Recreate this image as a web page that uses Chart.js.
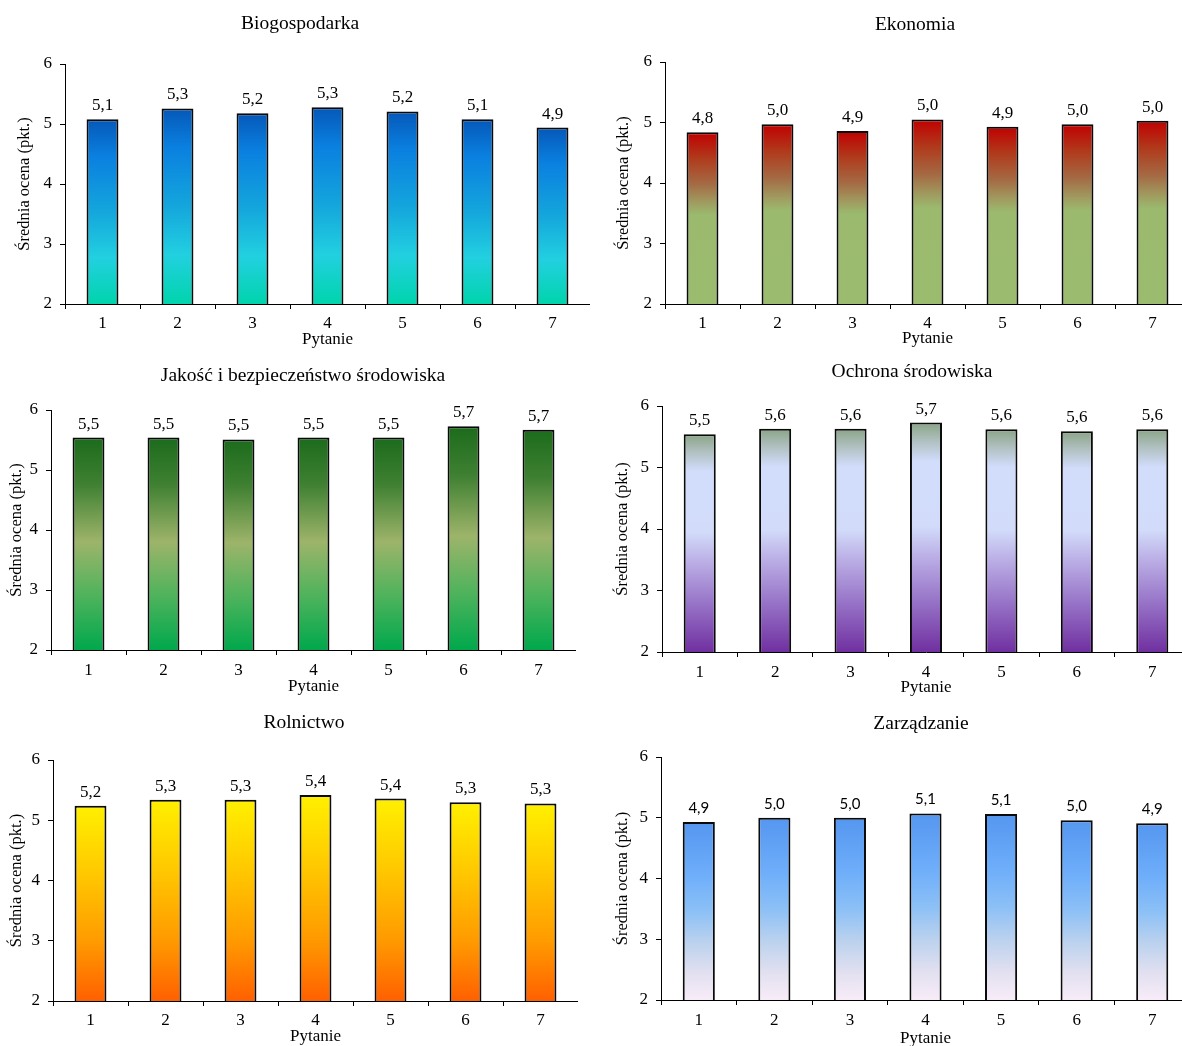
<!DOCTYPE html>
<html><head><meta charset="utf-8">
<script src="https://cdn.jsdelivr.net/npm/chart.js@4.4.1/dist/chart.umd.min.js"></script>
<style>
html,body{margin:0;padding:0;background:#fff;overflow:hidden;width:1182px;height:1046px;position:relative;}
canvas{position:absolute;}
</style></head><body>
<canvas id="c0"></canvas><canvas id="c1"></canvas><canvas id="c2"></canvas>
<canvas id="c3"></canvas><canvas id="c4"></canvas><canvas id="c5"></canvas>
<script>
// ---- data ----
const categories = ['1', '2', '3', '4', '5', '6', '7'];
const titles = ['Biogospodarka', 'Ekonomia', 'Jakość i bezpieczeństwo środowiska', 'Ochrona środowiska', 'Rolnictwo', 'Zarządzanie'];
const biogospodarka = [5.08, 5.26, 5.18, 5.28, 5.21, 5.08, 4.94];
const ekonomia      = [4.84, 4.97, 4.86, 5.05, 4.93, 4.97, 5.03];
const jakosc        = [5.54, 5.54, 5.51, 5.54, 5.54, 5.73, 5.67];
const ochrona       = [5.54, 5.63, 5.63, 5.73, 5.62, 5.59, 5.62];
const rolnictwo     = [5.24, 5.34, 5.34, 5.42, 5.36, 5.30, 5.28];
const zarzadzanie   = [4.93, 5.00, 5.00, 5.07, 5.06, 4.96, 4.91];
const yTicks = [2, 3, 4, 5, 6];
const xTitle = 'Pytanie';
const yTitle = 'Średnia ocena (pkt.)';
const series = [biogospodarka, ekonomia, jakosc, ochrona, rolnictwo, zarzadzanie];

// ---- styles ----
const gradients = [
  [[0,'#0558b8'],[0.2,'#0a80e0'],[0.5,'#14a6dc'],[0.75,'#22d0e0'],[1,'#00d4ac']],
  [[0,'#c00000'],[0.15,'#b03a1c'],[0.3,'#a46a44'],[0.4,'#a0985e'],[0.48,'#9bba6e'],[1,'#9bbb6e']],
  [[0,'#1c6b1c'],[0.22,'#3f8032'],[0.49,'#9db46a'],[0.75,'#4db35c'],[1,'#00a84c']],
  [[0,'#8aa486'],[0.08,'#b0c0c0'],[0.17,'#d2ddfc'],[0.45,'#d2dcfa'],[0.58,'#bcb0e6'],[0.75,'#9c7ccc'],[1,'#7030a0']],
  [[0,'#fff000'],[0.35,'#ffc800'],[0.7,'#ff9a00'],[1,'#ff6000']],
  [[0,'#5596f0'],[0.3,'#6eaefa'],[0.5,'#8cc0f6'],[0.68,'#bcd2ee'],[0.85,'#e2e0f0'],[1,'#f8ecf8']]
];
const layout = [
  {left:0,   axisX:65,  right:590,  plotTop:64,  plotBottom:304,  titleX:300, titleY:24,  yTitleX:25,  xLabelY:323,  xTitleY:340},
  {left:600, axisX:665, right:1190, plotTop:62,  plotBottom:304,  titleX:915, titleY:25,  yTitleX:624, xLabelY:323,  xTitleY:339},
  {left:0,   axisX:51,  right:576,  plotTop:410, plotBottom:650,  titleX:303, titleY:376, yTitleX:17,  xLabelY:670,  xTitleY:687},
  {left:600, axisX:662, right:1190, plotTop:406, plotBottom:652,  titleX:912, titleY:372, yTitleX:623, xLabelY:672,  xTitleY:688},
  {left:0,   axisX:53,  right:578,  plotTop:760, plotBottom:1001, titleX:304, titleY:723, yTitleX:17,  xLabelY:1020, xTitleY:1037},
  {left:600, axisX:661, right:1190, plotTop:757, plotBottom:1000, titleX:921, titleY:724, yTitleX:623, xLabelY:1020, xTitleY:1039}
];
const SERIF = '"Liberation Serif", "Times New Roman", serif';
const SANS = 'Lato, "Liberation Sans", sans-serif';

const decor = {
  id: 'decor',
  afterDatasetsDraw(chart, args, o) {
    const ctx = chart.ctx;
    ctx.save();
    ctx.fillStyle = '#000';
    ctx.textAlign = 'center';
    ctx.textBaseline = 'alphabetic';
    ctx.font = o.labelFont;
    const meta = chart.getDatasetMeta(0);
    const data = chart.data.datasets[0].data;
    meta.data.forEach((el, i) => {
      ctx.fillText(data[i].toFixed(1).replace('.', ','), el.x, el.y - o.labelGap);
    });
    ctx.font = o.titleFont;
    ctx.textBaseline = 'middle';
    ctx.fillText(o.title, o.titleX, o.titleY);
    ctx.restore();
  }
};

series.forEach((values, k) => {
  const L = layout[k];
  const top = L.plotTop - 60;
  const xh = 50;
  const W = L.right - L.left;
  const H = L.plotBottom + xh - top;
  const yw = L.axisX - L.left;
  const cv = document.getElementById('c' + k);
  cv.width = W; cv.height = H;
  cv.style.left = L.left + 'px'; cv.style.top = top + 'px';
  const stops = gradients[k];
  const tickFont = {family: SERIF, size: 17};
  const xTitleLH = 17 * 1.2;
  const yTitleLH = 16.5 * 1.2;
  new Chart(cv, {
    type: 'bar',
    data: {
      labels: categories,
      datasets: [{
        data: values,
        borderColor: '#0a0a0a',
        borderWidth: 2,
        borderSkipped: false,
        barPercentage: 0.425,
        categoryPercentage: 1,
        backgroundColor(ctx) {
          const chart = ctx.chart;
          if (!chart.chartArea || ctx.type !== 'data') return stops[0][1];
          const ys = chart.scales.y;
          const v = ctx.raw;
          const t = ys.getPixelForValue(v), b = ys.getPixelForValue(yTicks[0]);
          const g = chart.ctx.createLinearGradient(0, t, 0, b);
          stops.forEach(([o, c]) => g.addColorStop(o, c));
          return g;
        }
      }]
    },
    options: {
      responsive: false,
      animation: false,
      devicePixelRatio: 1,
      layout: {padding: {top: 60, left: 0, right: 0, bottom: 0}},
      plugins: {
        legend: {display: false},
        tooltip: {enabled: false},
        title: {display: false},
        decor: {
          labelFont: (k === 5 ? '15px ' + SANS : '17px ' + SERIF),
          labelGap: 9,
          titleFont: '19.5px ' + SERIF,
          title: titles[k],
          titleX: L.titleX - L.left,
          titleY: L.titleY - top
        }
      },
      scales: {
        x: {
          grid: {display: true, offset: true, drawOnChartArea: false, drawTicks: true, tickLength: 5, color: '#000'},
          border: {display: true, color: '#000', width: 1},
          ticks: {color: '#000', font: tickFont, padding: Math.max(0, L.xLabelY - L.plotBottom - 5 - 10)},
          title: {display: true, text: xTitle, color: '#000', font: {family: SERIF, size: 17},
                  padding: {top: 0, bottom: Math.max(0, L.plotBottom + xh - L.xTitleY - xTitleLH / 2)}},
          afterFit(s) { s.height = xh; }
        },
        y: {
          min: yTicks[0], max: yTicks[yTicks.length - 1],
          afterBuildTicks(s) { s.ticks = yTicks.map(v => ({value: v})); },
          grid: {display: true, drawOnChartArea: false, drawTicks: true, tickLength: 5, color: '#000'},
          border: {display: true, color: '#000', width: 1},
          ticks: {color: '#000', font: tickFont, padding: 8},
          title: {display: true, text: yTitle, color: '#000', font: {family: SERIF, size: 16.5},
                  padding: {top: Math.max(0, L.yTitleX - L.left - yTitleLH / 2), bottom: 0}},
          afterFit(s) { s.width = yw; }
        }
      }
    },
    plugins: [decor]
  });
});
</script>
</body></html>
